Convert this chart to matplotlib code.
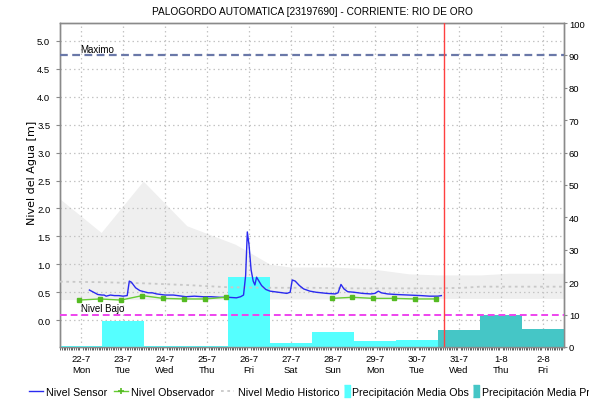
import numpy as np
import matplotlib
matplotlib.use("Agg")
import matplotlib.pyplot as plt
from matplotlib.lines import Line2D

plt.rcParams['font.family'] = ['Liberation Sans', 'DejaVu Sans']

# days counted from 22-7 00:00
dias = ['22-7', '23-7', '24-7', '25-7', '26-7', '27-7', '28-7', '29-7', '30-7', '31-7', '1-8', '2-8']
dias_sem = ['Mon', 'Tue', 'Wed', 'Thu', 'Fri', 'Sat', 'Sun', 'Mon', 'Tue', 'Wed', 'Thu', 'Fri']

sensor_t = [0.70, 0.80, 0.90, 1.00, 1.05, 1.10, 1.20, 1.30, 1.40, 1.50, 1.60, 1.65, 1.70, 1.80,
            1.90, 2.00, 2.10, 2.20, 2.30, 2.40, 2.50, 2.70, 2.90, 3.00, 3.20, 3.40, 3.60, 3.80,
            4.00, 4.20, 4.30, 4.37, 4.42, 4.46, 4.50, 4.55, 4.60, 4.64, 4.68, 4.72, 4.80, 4.90,
            5.00, 5.20, 5.40, 5.48, 5.53, 5.60, 5.70, 5.80, 5.95, 6.10, 6.35, 6.55, 6.62, 6.69,
            6.76, 6.85, 7.00, 7.20, 7.40, 7.50, 7.58, 7.65, 7.80, 8.00, 8.30, 8.60, 8.80, 9.00, 9.08]
sensor_v = [0.54, 0.50, 0.46, 0.45, 0.45, 0.43, 0.45, 0.44, 0.44, 0.43, 0.44, 0.70, 0.68, 0.58,
            0.53, 0.51, 0.49, 0.49, 0.47, 0.46, 0.45, 0.45, 0.43, 0.42, 0.43, 0.42, 0.42, 0.41,
            0.41, 0.40, 0.42, 0.45, 0.80, 1.58, 1.35, 0.90, 0.70, 0.63, 0.77, 0.72, 0.62, 0.55,
            0.52, 0.50, 0.48, 0.50, 0.72, 0.70, 0.62, 0.56, 0.52, 0.50, 0.48, 0.47, 0.49, 0.64,
            0.56, 0.51, 0.50, 0.48, 0.47, 0.48, 0.52, 0.49, 0.47, 0.46, 0.45, 0.44, 0.43, 0.43, 0.44]

obs_t = [0.45, 0.95, 1.45, 1.96, 2.46, 2.95, 3.45, 3.95, 6.47, 6.96, 7.46, 7.95, 8.45, 8.95]
obs_v = [0.36, 0.38, 0.36, 0.44, 0.39, 0.38, 0.38, 0.41, 0.39, 0.41, 0.39, 0.39, 0.38, 0.38]

hist_t = [0.0, 0.98, 1.98, 3.02, 4.17, 4.5, 5.0, 5.5, 6.5, 7.4, 8.3, 9.0, 10.0, 10.7, 12.0]
hist_max = [2.17, 1.57, 2.49, 1.69, 1.36, 1.22, 1.00, 0.95, 0.95, 0.92, 0.83, 0.81, 0.81, 0.84, 0.84]
hist_min = [0.37, 0.37, 0.37, 0.37, 0.37, 0.37, 0.38, 0.38, 0.38, 0.38, 0.38, 0.39, 0.39, 0.39, 0.39]
hist_med_t = [0.0, 1.0, 2.0, 3.0, 4.0, 5.0, 6.0, 7.0, 8.0, 9.0, 9.6, 10.0, 11.0, 12.0]
hist_med = [0.69, 0.68, 0.66, 0.63, 0.59, 0.58, 0.58, 0.57, 0.57, 0.57, 0.58, 0.60, 0.60, 0.60]

precip_obs = [0.4, 8.0, 0.3, 0.3, 21.5, 1.3, 4.5, 1.7, 2.3]
precip_pron = [5.4, 9.9, 5.7]

nivel_maximo = 4.74
nivel_bajo = 0.10
ahora = 9.14

fig = plt.figure(figsize=(5.89, 4.02), dpi=100)
rect = [60 / 589, 54 / 402, 504 / 589, 324 / 402]
ax = fig.add_axes(rect)
ax2 = ax.twinx()
ax3 = fig.add_axes(rect, sharex=ax, sharey=ax)
ax3.patch.set_visible(False)
ax3.axis('off')
ax.set_zorder(0)
ax2.set_zorder(1)
ax3.set_zorder(2)

# historic band and grid on the bottom layer
ax.fill_between(hist_t, hist_min, hist_max, color='#EFEFEF', lw=0, zorder=1)
ax.set_axisbelow('line')
ax.grid(True, color='#C4C4C4', linestyle=(0, (1.2, 2.4)), linewidth=0.9)

# precipitation bars, one per day
dias_obs = np.arange(len(precip_obs))
dias_pron = np.arange(len(precip_obs), len(precip_obs) + len(precip_pron))
ax2.bar(dias_obs, precip_obs, width=1.0, align='edge', color='#55FFFF', lw=0)
ax2.bar(dias_pron, precip_pron, width=1.0, align='edge', color='#45C6C6', lw=0)

# levels on the top layer
ax3.plot(hist_med_t, hist_med, color='#C8C8C8', lw=1.3, linestyle=(0, (1.5, 2)))
ax3.plot(sensor_t, sensor_v, color='#2A2AF0', lw=1.0)
obs_t_plot = obs_t[:8] + [np.nan] + obs_t[8:]
obs_v_plot = obs_v[:8] + [np.nan] + obs_v[8:]
ax3.plot(obs_t_plot, obs_v_plot, color='#66CC33', lw=1.0, marker='s', ms=2.2,
         mfc='#55BB22', mec='#55BB22')
ax3.axhline(nivel_maximo, color='#6A78A8', lw=1.6, linestyle=(0, (3.5, 2)))
ax3.axhline(nivel_bajo, color='#EE44EE', lw=1.4, linestyle=(0, (3.5, 2)))
ax3.axvline(ahora, color='#FF4040', lw=1.0)
ax3.text(0.48, nivel_maximo + 0.02, 'Maximo', fontsize=7, va='bottom', ha='left')
ax3.text(0.50, nivel_bajo + 0.03, 'Nivel Bajo', fontsize=7, va='bottom', ha='left')

ax.set_xlim(0, 12)
ax.set_ylim(-0.48, 5.32)
ax2.set_ylim(0, 100)
ax.set_yticks(np.arange(0, 5.01, 0.5))
ax.set_yticklabels([f'{v:.1f}' for v in np.arange(0, 5.01, 0.5)])
ax2.set_yticks(np.arange(0, 101, 10))
ax.set_xticks(np.arange(len(dias)) + 0.5)
ax.set_xticklabels([f'{d}\n{s}' for d, s in zip(dias, dias_sem)], linespacing=1.3)
ax.set_xticks(np.arange(0, 12, 1 / 24), minor=True)

for a in (ax, ax2):
    for sp in a.spines.values():
        sp.set_color('#8A8A8A')
        sp.set_linewidth(1.0)
ax.tick_params(axis='y', length=3, width=0.8, color='#8A8A8A', pad=4, labelsize=6.8)
ax2.tick_params(axis='y', length=2.5, width=0.8, color='#8A8A8A', pad=1, labelsize=6.8)
ax.tick_params(axis='x', which='major', length=0, pad=5, labelsize=6.8)
ax.tick_params(axis='x', which='minor', length=2, width=0.6, color='#444444')

ax.set_ylabel('Nivel del Agua [m]', fontsize=8, family='DejaVu Sans')
ax.yaxis.set_label_coords(-0.046, 0.54)
fig.text(312 / 589, 1 - 12 / 402, 'PALOGORDO AUTOMATICA [23197690] - CORRIENTE: RIO DE ORO',
         fontsize=7.3, ha='center', va='center')

# legend: level series, then precipitation swatches with a shorter handle
lineas = [
    Line2D([], [], color='#2A2AF0', lw=1.0),
    Line2D([], [], color='#66CC33', lw=1.0, marker='+', ms=4, mew=1.2, mec='#55BB22'),
    Line2D([], [], color='#C8C8C8', lw=1.3, linestyle=(0, (1.5, 2))),
]
rect_v = [(-0.6, -1), (0.6, -1), (0.6, 1), (-0.6, 1)]
cajas = [
    Line2D([], [], color='#55FFFF', lw=0, marker=rect_v, ms=8),
    Line2D([], [], color='#45C6C6', lw=0, marker=rect_v, ms=8),
]
fig.legend(lineas, ['Nivel Sensor', 'Nivel Observador', 'Nivel Medio Historico'],
           loc='center left', bbox_to_anchor=(0.04, 0.022), ncol=3,
           frameon=False, fontsize=7.7, handlelength=1.3, handletextpad=0.3,
           columnspacing=0.6, borderpad=0)
fig.legend(cajas, ['Precipitación Media Obs', 'Precipitación Media Pronostico'],
           loc='center left', bbox_to_anchor=(338 / 589, 0.022), ncol=2,
           frameon=False, fontsize=7.7, handlelength=0.6, handletextpad=0.25,
           columnspacing=0.35, borderpad=0)

fig.savefig('out.png', dpi=100)
